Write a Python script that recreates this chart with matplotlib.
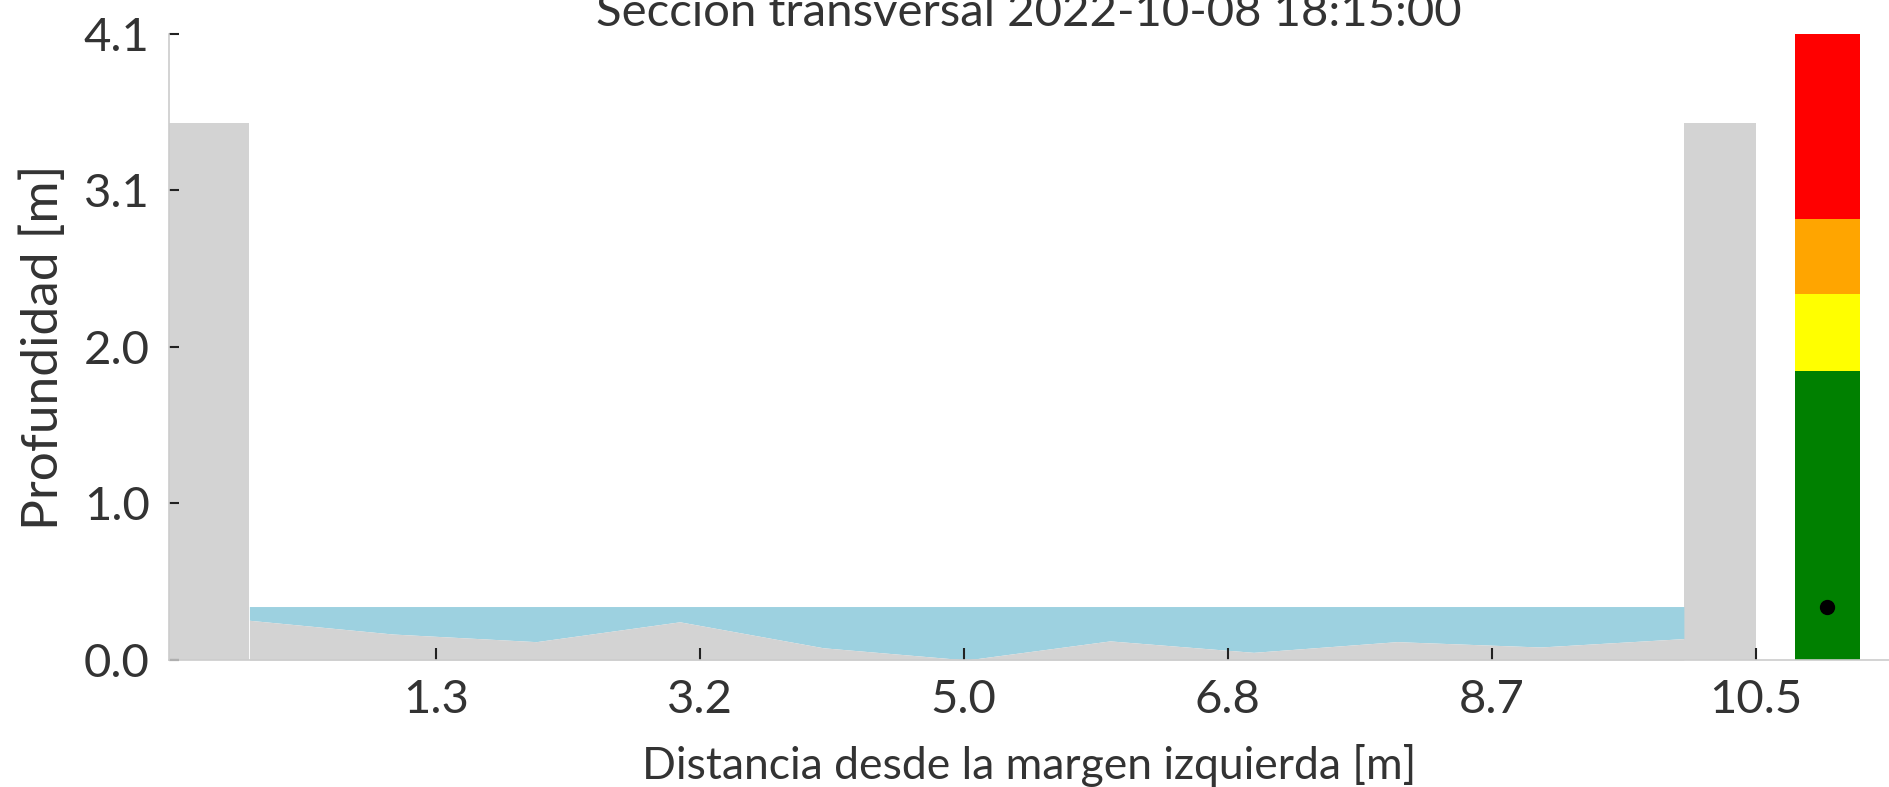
#!/usr/bin/env python

import numpy as np
import matplotlib.pyplot as plt

plt.rcParams['font.family'] = ['Lato', 'DejaVu Sans']

# seccion transversal del canal
titulo = "Sección transversal 2022-10-08 18:15:00"
distancia = [0, 1, 2, 3, 4, 5, 6, 7, 8, 9, 10]
fondo = [0.26, 0.17, 0.12, 0.25, 0.08, 0.0, 0.125, 0.05, 0.12, 0.085, 0.14]
nivel = 0.35
muro_izq = [-0.56, 0.0]
muro_der = [10.0, 10.5]
alto_muro = 3.52

# semaforo de alerta
umbrales = [0.0, 1.89, 2.40, 2.89, 4.1]
colores = ["green", "yellow", "orange", "red"]
x_semaforo = 11.0

x_ticks = [1.3, 3.14, 4.98, 6.82, 8.66, 10.5]
x_labels = ["1.3", "3.2", "5.0", "6.8", "8.7", "10.5"]
y_max = 4.1

gris = "#d3d3d3"
agua = "#9dd1e0"
texto = "#333333"

fig = plt.figure(figsize=(18.89, 7.87), dpi=100)
ax = fig.add_axes([0.0895, 0.1614, 0.9105, 0.7954])

# muros
ax.fill_between(muro_izq, 0, alto_muro, color=gris, lw=0)
ax.fill_between(muro_der, 0, alto_muro, color=gris, lw=0)
# agua y fondo
ax.fill_between(distancia, fondo, nivel, color=agua, lw=0)
ax.fill_between(distancia, 0, fondo, color=gris, lw=0)

# semaforo
for i in range(len(colores)):
    ax.bar(x_semaforo, umbrales[i + 1] - umbrales[i], bottom=umbrales[i],
           width=0.45, color=colores[i], lw=0)
ax.plot(x_semaforo, nivel, "o", color="black", ms=10)

ax.set_xlim(muro_izq[0], 11.43)
ax.set_ylim(0, y_max)

ax.set_xticks(x_ticks)
ax.set_xticklabels(x_labels)
yt = np.linspace(0, y_max, 5)
ax.set_yticks(yt)
ax.set_yticklabels(["%.1f" % v for v in yt])

ax.tick_params(direction="in", length=9, width=1.5, colors="#222222",
               labelsize=34, labelcolor=texto)
ax.tick_params(axis="x", pad=14)
ax.tick_params(axis="y", pad=14, length=7)

for s in ["top", "right"]:
    ax.spines[s].set_visible(False)
for s in ["left", "bottom"]:
    ax.spines[s].set_color("#cccccc")
    ax.spines[s].set_linewidth(1.2)

ax.set_xlabel("Distancia desde la margen izquierda [m]", fontsize=32,
              color=texto, labelpad=16)
ax.set_ylabel("Profundidad [m]", fontsize=37, color=texto, labelpad=12)
ax.set_title(titulo, fontsize=34, color=texto, pad=4)

fig.savefig("out.png", dpi=100)
